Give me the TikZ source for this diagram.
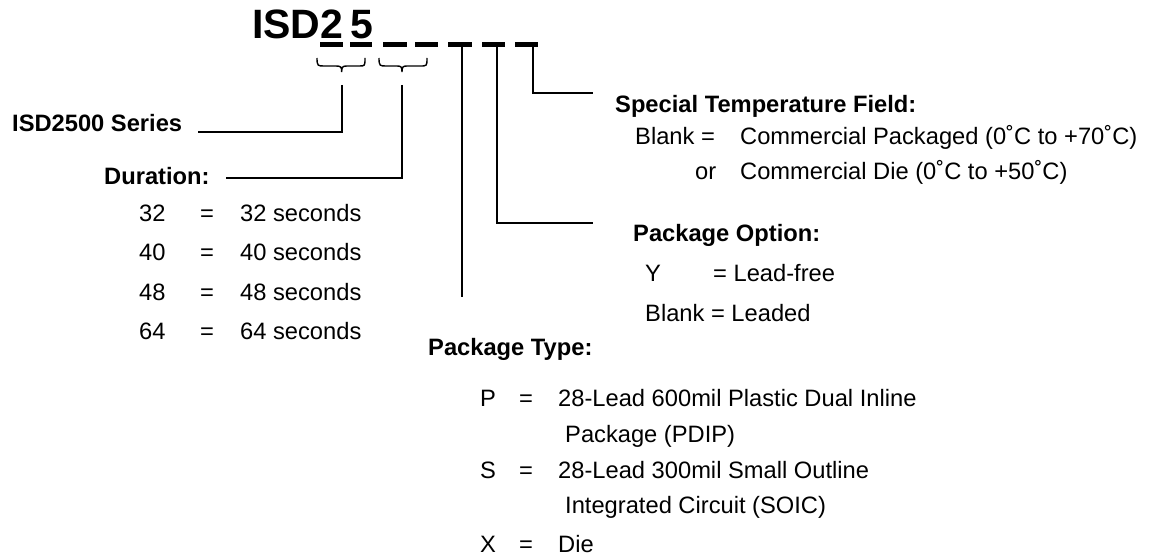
\documentclass[tikz,border=0pt]{standalone}
\usepackage{fontspec}
\setmainfont{Liberation Sans}
\begin{document}
\begin{tikzpicture}[x=1pt,y=-1pt,
  txt/.style={inner sep=0pt, anchor=base west, font=\fontsize{23.7}{28}\selectfont},
  eqs/.style={inner sep=0pt, anchor=base, font=\fontsize{23.7}{28}\selectfont},
  hdr/.style={inner sep=0pt, anchor=base west, font=\fontsize{23.7}{28}\selectfont\bfseries},
  ttl/.style={inner sep=0pt, anchor=base west, font=\fontsize{41}{45}\selectfont\bfseries},
  conn/.style={line width=1.6pt},
  slot/.style={line width=5pt},
  brc/.style={line width=1.4pt}]
\useasboundingbox (0,0) rectangle (1149,556);

% title
\node[ttl] (t1) at (252,39) {ISD2};
\node[ttl] (t2) at (350,39) {5};

% slots
\foreach \a/\b [count=\i] in {320/343,350/372,383/407,415/438,448/472,482/505,515/538}
  \draw[slot] (\a,45) -- (\b,45);
\coordinate (d5) at (462,45);
\coordinate (d6) at (497,45);
\coordinate (d7) at (533,45);

% braces
\draw[brc] (317,58) .. controls (317,66) and (318,66) .. (324,66) -- (336,66)
  .. controls (341,66) and (341.7,67) .. (341.7,72)
  .. controls (341.7,67) and (342.4,66) .. (347,66) -- (359,66)
  .. controls (365,66) and (365,66) .. (365,58);
\draw[brc] (379,58) .. controls (379,66) and (380,66) .. (386,66) -- (397,66)
  .. controls (401.3,66) and (402,67) .. (402,72)
  .. controls (402,67) and (402.7,66) .. (407,66) -- (420,66)
  .. controls (427,66) and (427,66) .. (427,58);
\coordinate (b1) at (341.7,85);
\coordinate (b2) at (402,85);

% ISD2500 Series
\node[hdr] (ser) at (12,132) {ISD2500 Series};
\coordinate (serend) at (198,132);
\draw[conn] (b1) |- (serend);

% Duration
\node[hdr] (dur) at (104,185) {Duration:};
\coordinate (durend) at (226,178);
\draw[conn] (b2) |- (durend);
\foreach \n/\y in {32/222,40/261,48/300,64/339}{
  \node[txt] (dn\n) at (139,\y) {\n};
  \node[eqs] (de\n) at (207,\y) {=};
  \node[txt] (dt\n) at (240,\y) {\n{} seconds};
}

% Special Temperature Field
\coordinate (stend) at (593,93);
\draw[conn] (d7) |- (stend);
\node[hdr] (st) at (615,113) {Special Temperature Field:};
\node[txt] (stb) at (635,145) {Blank =};
\node[txt] (stc) at (740,145) {Commercial Packaged (0˚C to +70˚C)};
\node[txt] (sto) at (695,180) {or};
\node[txt] (std) at (740,180) {Commercial Die (0˚C to +50˚C)};

% Package Option
\coordinate (poend) at (593,223);
\draw[conn] (d6) |- (poend);
\node[hdr] (po) at (633,242) {Package Option:};
\node[txt] (poy) at (645,282) {Y};
\node[txt] (poyt) at (713,282) {= Lead-free};
\node[txt] (pob) at (645,321) {Blank = Leaded};

% Package Type
\coordinate (ptend) at (462,297);
\draw[conn] (d5) -- (ptend);
\node[hdr] (pt) at (428,355) {Package Type:};
\node[txt] (ptp) at (480,406) {P};
\node[eqs] (ptpe) at (526,406) {=};
\node[txt] (ptpt) at (558,406) {28-Lead 600mil Plastic Dual Inline};
\node[txt] (ptpc) at (565,442) {Package (PDIP)};
\node[txt] (pts) at (480,478) {S};
\node[eqs] (ptse) at (526,478) {=};
\node[txt] (ptst) at (558,478) {28-Lead 300mil Small Outline};
\node[txt] (ptsc) at (565,513) {Integrated Circuit (SOIC)};
\node[txt] (ptx) at (480,552) {X};
\node[eqs] (ptxe) at (526,552) {=};
\node[txt] (ptxt) at (558,552) {Die};
\end{tikzpicture}
\end{document}
